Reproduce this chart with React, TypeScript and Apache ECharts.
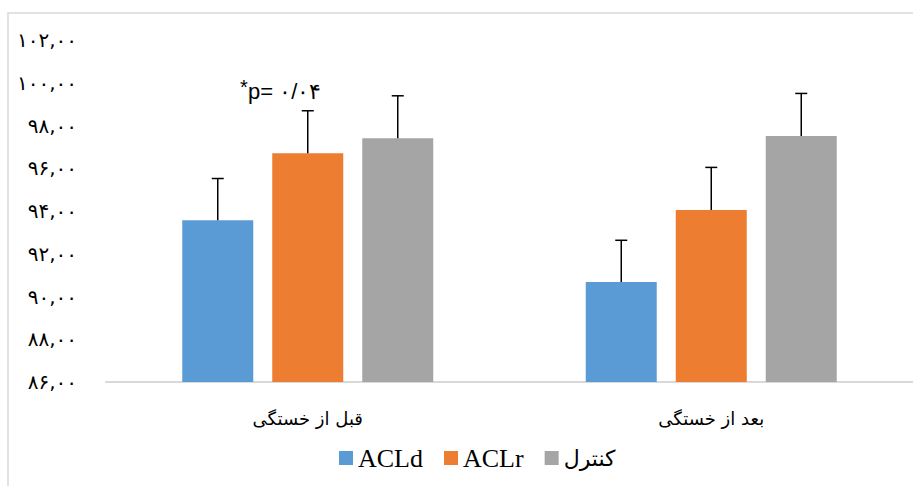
import React, { useEffect, useRef } from "react";
import * as echarts from "echarts";

const categories = ["قبل از خستگی", "بعد از خستگی"];
const seriesNames = ["ACLd", "ACLr", "کنترل"];
const aclD = [93.57, 90.68];
const aclR = [96.7, 94.05];
const control = [97.4, 97.51];
const aclDErr = [1.95, 1.95];
const aclRErr = [1.99, 1.99];
const controlErr = [1.99, 1.99];
const yMin = 86;
const yMax = 102;
const yStep = 2;
const annotation = "p= ۰/۰۴";

const colors = ["#5b9bd5", "#ed7d31", "#a5a5a5"];
const BAR_W = 71;
const BAR_GAP = 19;

const toPersian = (v: number) =>
  v
    .toFixed(2)
    .replace(".", ",")
    .replace(/[0-9]/g, (d) => "۰۱۲۳۴۵۶۷۸۹"[Number(d)]);

export default function App() {
  const ref = useRef<HTMLDivElement>(null);
  useEffect(() => {
    document.body.style.margin = "0";
    if (!ref.current) return;
    const chart = echarts.init(ref.current, undefined, { renderer: "svg" });
    const means = [aclD, aclR, control];
    const errs = [aclDErr, aclRErr, controlErr];
    const errData: number[][] = [];
    means.forEach((arr, s) =>
      arr.forEach((m, c) => errData.push([c, m, errs[s][c], s]))
    );
    chart.setOption({
      animation: false,
      backgroundColor: "#ffffff",
      grid: { left: 106, right: 0, top: 40, bottom: 104 },
      legend: {
        data: seriesNames,
        left: 334,
        top: 440,
        itemWidth: 14,
        itemHeight: 14,
        itemGap: 21,
        icon: "rect",
        formatter: (n: string) => (/[A-Za-z]/.test(n) ? n : `{fa|${n}}`),
        textStyle: {
          fontFamily: "Liberation Serif",
          fontSize: 26,
          color: "#000",
          rich: { fa: { fontFamily: "DejaVu Sans", fontSize: 22, color: "#000" } },
        },
      },
      xAxis: {
        type: "category",
        data: categories,
        axisLine: { lineStyle: { color: "#d9d9d9", width: 2 } },
        axisTick: { show: false },
        axisLabel: { margin: 27, fontSize: 18, color: "#000", fontFamily: "DejaVu Sans" },
      },
      yAxis: {
        type: "value",
        min: yMin,
        max: yMax,
        interval: yStep,
        splitLine: { show: false },
        axisLine: { show: false },
        axisTick: { show: false },
        axisLabel: {
          margin: 29,
          fontSize: 20,
          color: "#000",
          fontFamily: "DejaVu Sans",
          formatter: (v: number) => toPersian(v),
        },
      },
      graphic: [
        {
          type: "rect",
          shape: { x: 8, y: 13, width: 1000, height: 1000 },
          style: { fill: "none", stroke: "#d9d9d9", lineWidth: 1.5 },
          silent: true,
        },
        {
          type: "text",
          x: 240,
          y: 77,
          style: { text: "*", fontSize: 20, fill: "#000", fontFamily: "Liberation Sans" },
        },
        {
          type: "text",
          x: 248,
          y: 80,
          style: { text: annotation, fontSize: 22, fill: "#000", fontFamily: "Liberation Sans" },
        },
      ],
      series: [
        ...seriesNames.map((name, i) => ({
          name,
          type: "bar",
          data: means[i],
          barWidth: BAR_W,
          barGap: `${(BAR_GAP / BAR_W) * 100}%`,
          itemStyle: { color: colors[i] },
        })),
        {
          name: "err",
          type: "custom",
          z: 5,
          data: errData,
          encode: { x: 0, y: 1 },
          renderItem: (params: any, api: any) => {
            const c = api.value(0);
            const m = api.value(1);
            const e = api.value(2);
            const s = api.value(3);
            const base = api.coord([c, m]);
            const top = api.coord([c, m + e]);
            const x = base[0] + (s - 1) * (BAR_W + BAR_GAP);
            const st = { stroke: "#000", lineWidth: 1.5 };
            return {
              type: "group",
              children: [
                { type: "line", shape: { x1: x, y1: base[1], x2: x, y2: top[1] }, style: st },
                { type: "line", shape: { x1: x - 6, y1: top[1], x2: x + 6, y2: top[1] }, style: st },
              ],
            };
          },
        },
      ],
    });
    return () => chart.dispose();
  }, []);
  return <div ref={ref} style={{ width: 913, height: 486 }} />;
}
